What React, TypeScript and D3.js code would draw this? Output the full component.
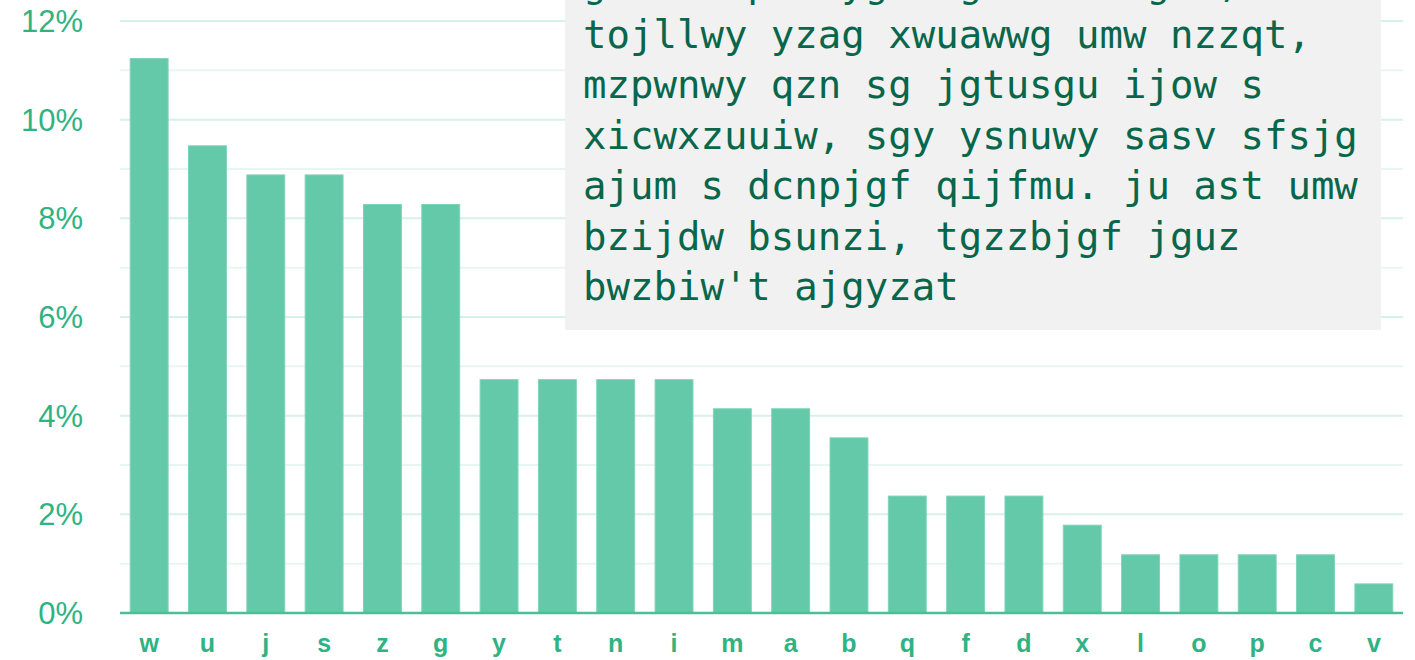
import React from "react";
import * as d3 from "d3";

const categories = ["w","u","j","s","z","g","y","t","n","i","m","a","b","q","f","d","x","l","o","p","c","v"];
const values = [11.24,9.47,8.88,8.88,8.28,8.28,4.73,4.73,4.73,4.73,4.14,4.14,3.55,2.37,2.37,2.37,1.78,1.18,1.18,1.18,1.18,0.59];
const yTicks = [0,2,4,6,8,10,12];
const gridTicks = [0,1,2,3,4,5,6,7,8,9,10,11,12];
const noteLines = [
  "gz auw pua yg zag umw nigzt,",
  "tojllwy yzag xwuawwg umw nzzqt,",
  "mzpwnwy qzn sg jgtusgu ijow s",
  "xicwxzuuiw, sgy ysnuwy sasv sfsjg",
  "ajum s dcnpjgf qijfmu. ju ast umw",
  "bzijdw bsunzi, tgzzbjgf jguz",
  "bwzbiw't ajgyzat",
];

export default function App() {
  const W = 1415, H = 660;
  const x = d3.scaleBand<string>().domain(categories).range([120, 1403]).paddingInner(0.35).paddingOuter(0.175);
  const y = d3.scaleLinear().domain([0, 12]).range([613, 21]);
  return (
    <svg width={W} height={H} style={{ position: "absolute", left: 0, top: 0, background: "#fff" }}>
      {gridTicks.map((t) => (
        <line key={"g" + t} x1={120} x2={1403} y1={y(t)} y2={y(t)} stroke={t % 2 === 0 ? "#d8f1e7" : "#e8f6f0"} strokeWidth={2} />
      ))}
      {categories.map((c, i) => (
        <rect key={c} x={x(c)} y={y(values[i])} width={x.bandwidth()} height={y(0) - y(values[i])} fill="#64c9a9" stroke="#7fd3b8" strokeWidth={1} />
      ))}
      <line x1={120} x2={1403} y1={y(0)} y2={y(0)} stroke="#4dbf96" strokeWidth={2.5} />
      {yTicks.map((t) => (
        <text key={"y" + t} x={83} y={y(t)} dy="0.36em" textAnchor="end" fontFamily="Liberation Sans, Arial, sans-serif" fontSize={31} fill="#2fb383">{t + "%"}</text>
      ))}
      {categories.map((c) => (
        <text key={"x" + c} x={(x(c) as number) + x.bandwidth() / 2} y={652} textAnchor="middle" fontFamily="Liberation Sans, Arial, sans-serif" fontWeight="bold" fontSize={25} fill="#2fb383">{c}</text>
      ))}
      <rect x={565} y={-10} width={816} height={340} fill="#f1f1f1" />
      {noteLines.map((l, i) => (
        <text key={"n" + i} x={583} y={-3 + i * 50.5} fontFamily="DejaVu Sans Mono, monospace" fontSize={39} fill="#08674b" style={{ whiteSpace: "pre" }}>{l}</text>
      ))}
    </svg>
  );
}
